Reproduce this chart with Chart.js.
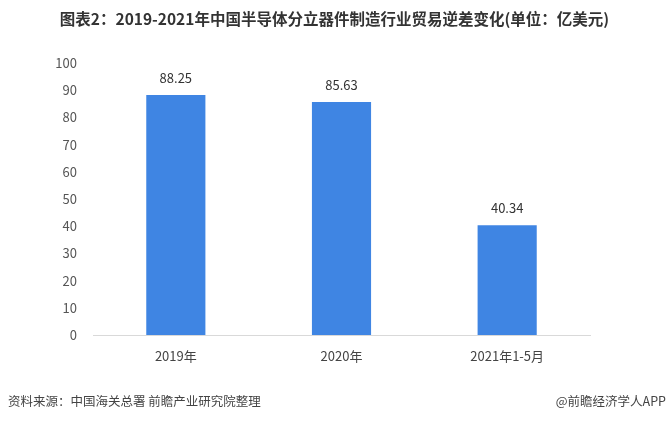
<!DOCTYPE html>
<html><head><meta charset="utf-8">
<script src="https://cdn.jsdelivr.net/npm/chart.js@4"></script>
<style>
html,body{margin:0;padding:0;background:#fff;width:669px;height:422px;overflow:hidden;font-family:"Noto Sans CJK SC",sans-serif;}
#wrap{position:relative;width:669px;height:422px;}
#c{position:absolute;left:0;top:0;}
.t{position:absolute;white-space:nowrap;}
#title{left:0;width:669px;top:7px;text-align:center;font-weight:bold;font-size:15.5px;color:#333;}
#src{left:8px;top:391px;font-size:12.5px;color:#444;}
#app{right:3px;top:391px;font-size:12.5px;color:#444;}
</style></head><body>
<div id="wrap">
<canvas id="c" width="669" height="422"></canvas>
<div class="t" id="title">图表2：2019-2021年中国半导体分立器件制造行业贸易逆差变化(单位：亿美元)</div>
<div class="t" id="src">资料来源：中国海关总署 前瞻产业研究院整理</div>
<div class="t" id="app">@前瞻经济学人APP</div>
</div>
<script>
const categories = ["2019年", "2020年", "2021年1-5月"];
const deficit = [88.25, 85.63, 40.34];
const yTicks = [0, 10, 20, 30, 40, 50, 60, 70, 80, 90, 100];

const labelPlugin = {
  id: 'vals',
  afterDatasetsDraw(chart) {
    const ctx = chart.ctx;
    const meta = chart.getDatasetMeta(0);
    ctx.save();
    ctx.font = '13px "Noto Sans CJK SC", sans-serif';
    ctx.fillStyle = '#333';
    ctx.textAlign = 'center';
    ctx.textBaseline = 'middle';
    meta.data.forEach((bar, i) => {
      ctx.fillText(deficit[i].toFixed(2), bar.x, bar.y - 17);
    });
    ctx.restore();
  }
};

new Chart(document.getElementById('c'), {
  type: 'bar',
  data: {
    labels: categories,
    datasets: [{
      data: deficit,
      backgroundColor: '#3f85e3',
      categoryPercentage: 1,
      barPercentage: 0.357
    }]
  },
  options: {
    responsive: false,
    animation: false,
    devicePixelRatio: 1,
    layout: { padding: { left: 0, right: 79, top: 63, bottom: 57 } },
    plugins: { legend: { display: false }, tooltip: { enabled: false } },
    scales: {
      x: {
        grid: { display: false },
        border: { display: true, color: '#d9d9d9' },
        ticks: { color: '#444', font: { size: 13, family: '"Noto Sans CJK SC", sans-serif' }, padding: 5 },
        afterFit(s) { s.height = 30; }
      },
      y: {
        min: 0, max: 100,
        afterBuildTicks(s) { s.ticks = yTicks.map(v => ({ value: v })); },
        grid: { display: false },
        border: { display: false },
        ticks: { color: '#555', font: { size: 13, family: '"Noto Sans CJK SC", sans-serif' }, padding: 8 },
        afterFit(s) { s.width = 93; }
      }
    }
  },
  plugins: [labelPlugin]
});
</script>
</body></html>
